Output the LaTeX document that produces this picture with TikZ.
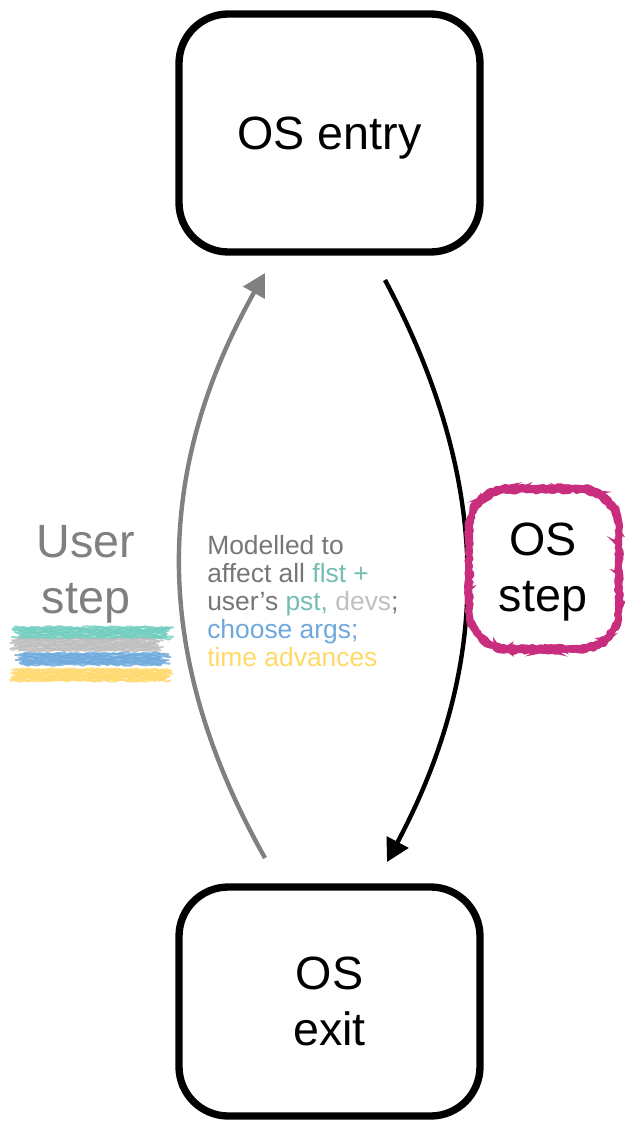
\documentclass[tikz,border=0pt]{standalone}
\usepackage{fontspec}
\setmainfont{Liberation Sans}
\usetikzlibrary{arrows.meta,decorations.pathmorphing}

\definecolor{txtgray}{RGB}{118,118,118}
\definecolor{usergray}{RGB}{128,128,128}
\definecolor{flstteal}{RGB}{115,190,178}
\definecolor{devgray}{RGB}{192,192,192}
\definecolor{argblue}{RGB}{111,168,220}
\definecolor{timeyellow}{RGB}{255,217,102}
\definecolor{scrTeal}{RGB}{112,205,190}
\definecolor{scrGray}{RGB}{190,190,190}
\definecolor{scrBlue}{RGB}{110,170,220}
\definecolor{scrYellow}{RGB}{255,217,110}
\definecolor{ospink}{RGB}{201,45,125}

\begin{document}
\begin{tikzpicture}[x=0.75pt,y=-0.75pt,
  bigtext/.style={font=\fontsize{35}{42}\selectfont},
  statebox/.style={draw=black, line width=5.5pt, rounded corners=37pt,
    minimum width=225.75pt, align=center, bigtext, text depth=0pt},
  flow/.style={line width=3.3pt, -{Triangle[length=17pt,width=18pt]}},
  roughpink/.style={draw=ospink, line width=2.6pt, line cap=round,
    decorate, decoration={random steps, segment length=2.5pt, amplitude=1.2pt},
    rounded corners=0.6pt},
  scribble/.style={line width=1.5pt, opacity=0.8, line cap=round,
    decorate, decoration={random steps, segment length=2.5pt, amplitude=0.8pt}}]
\useasboundingbox (0,0) rectangle (624,1123);
\pgfmathsetseed{11}

% the two OS states
\node[statebox, minimum height=178.5pt] (entry) at (329.5,133) {OS entry};
\node[statebox, minimum height=171.75pt] (exit) at (329.5,1001.5) {OS\\exit};

% arrow end points
\coordinate (uStart) at (265,858);
\coordinate (uEnd) at (265,273);
\coordinate (oStart) at (385,280);
\coordinate (oEnd) at (387,862);

% user step (grey, left) and OS step (black, right)
\draw[flow, usergray] (uStart) .. controls (152,657) and (152,474) .. (uEnd);
\draw[flow, black] (oStart) .. controls (492,481) and (494,661) .. (oEnd);

% side labels
\node[bigtext, align=center, text=usergray, text depth=0pt] (user) at (86,569) {User\\step};
\node[bigtext, align=center, text depth=0pt] (osstep) at (543,567) {OS\\step};

% hand-drawn ring round the OS step
\foreach \d/\e in {0/0, 2/-1.5, -2/1.5, 1.5/2, -1.5/-2, 0/2.5, 0/-2.5} {
  \draw[roughpink]
    (509+\d,489+\e) -- (579+\d,489+\e)
    .. controls (601+\d,489+\e) and (619+\d,507+\e) .. (619+\d,529+\e)
    -- (619+\d,609+\e)
    .. controls (619+\d,631+\e) and (601+\d,649+\e) .. (579+\d,649+\e)
    -- (509+\d,649+\e)
    .. controls (487+\d,649+\e) and (469+\d,631+\e) .. (469+\d,609+\e)
    -- (469+\d,529+\e)
    .. controls (469+\d,507+\e) and (487+\d,489+\e) .. (509+\d,489+\e);
}

% colour key scribbles under the user step
\foreach \col/\yc/\xa/\xb in {scrTeal/633/17/168, scrGray/645/15/158, scrBlue/659/20/165, scrYellow/675/13/168} {
  \foreach \k in {-6,...,6} {
    \pgfmathsetmacro\dy{\k*0.95}
    \pgfmathsetmacro\xs{\xa+5*rand}
    \pgfmathsetmacro\xe{\xb+6*rand}
    \draw[scribble, \col] (\xs,\yc+\dy) -- (\xe,\yc+\dy);
  }
}

% description of the user step
\node[anchor=north west, align=left, inner sep=0pt, text=txtgray,
      font=\fontsize{19.8}{21}\selectfont] (note) at (207,535)
  {Modelled to\\
   affect all \textcolor{flstteal}{flst +}\\
   user’s \textcolor{flstteal}{pst,} \textcolor{devgray}{devs};\\
   \textcolor{argblue}{choose args;}\\
   \textcolor{timeyellow}{time advances}};
\end{tikzpicture}
\end{document}
